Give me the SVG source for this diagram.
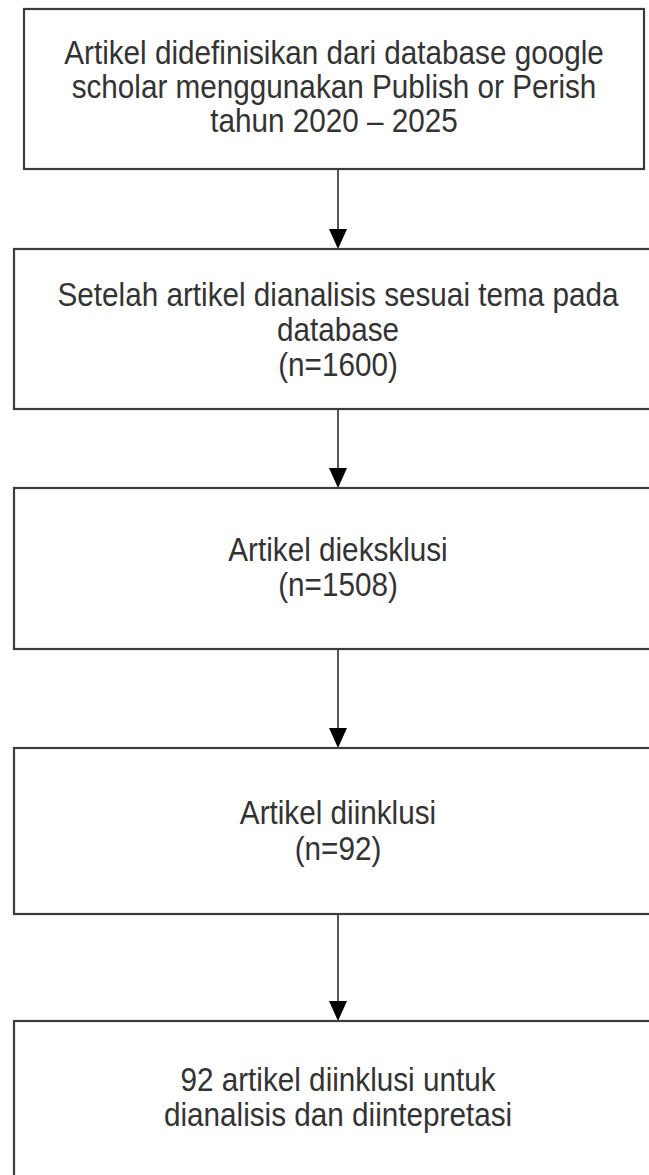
<svg xmlns="http://www.w3.org/2000/svg" width="649" height="1175" viewBox="0 0 649 1175">
<defs>
<style>
.box{fill:#fff;stroke:#3c3c3c;stroke-width:2.2}
.t{font-family:"Liberation Sans",Arial,sans-serif;font-size:33px;fill:#333;text-anchor:middle}
.c{stroke:#555;stroke-width:2;fill:none}
.h{fill:#000}
</style>
</defs>
<rect width="649" height="1175" fill="#fff"/>
<g id="connectors">
<line class="c" x1="338" y1="169" x2="338" y2="232"/>
<path class="h" d="M329,229 L347,229 L338,249 Z"/>
<line class="c" x1="338" y1="409" x2="338" y2="471"/>
<path class="h" d="M329,468 L347,468 L338,488 Z"/>
<line class="c" x1="338" y1="649" x2="338" y2="731"/>
<path class="h" d="M329,728 L347,728 L338,748 Z"/>
<line class="c" x1="338" y1="914" x2="338" y2="1004"/>
<path class="h" d="M329,1001 L347,1001 L338,1021 Z"/>
</g>
<g id="n1">
<rect class="box" x="24" y="9" width="620" height="160"/>
<g transform="translate(334,0) scale(0.9,1)">
<text class="t" x="0" y="64">Artikel didefinisikan dari database google</text>
<text class="t" x="0" y="98">scholar menggunakan Publish or Perish</text>
<text class="t" x="0" y="132">tahun 2020 – 2025</text>
</g>
</g>
<g id="n2">
<rect class="box" x="14" y="249" width="640" height="160"/>
<g transform="translate(338,0) scale(0.9,1)">
<text class="t" x="0" y="306">Setelah artikel dianalisis sesuai tema pada</text>
<text class="t" x="0" y="341">database</text>
<text class="t" x="0" y="376">(n=1600)</text>
</g>
</g>
<g id="n3">
<rect class="box" x="14" y="488" width="640" height="161"/>
<g transform="translate(338,0) scale(0.9,1)">
<text class="t" x="0" y="561">Artikel dieksklusi</text>
<text class="t" x="0" y="596">(n=1508)</text>
</g>
</g>
<g id="n4">
<rect class="box" x="14" y="748" width="640" height="166"/>
<g transform="translate(338,0) scale(0.9,1)">
<text class="t" x="0" y="824">Artikel diinklusi</text>
<text class="t" x="0" y="860">(n=92)</text>
</g>
</g>
<g id="n5">
<rect class="box" x="14" y="1021" width="640" height="200"/>
<g transform="translate(338,0) scale(0.9,1)">
<text class="t" x="0" y="1091">92 artikel diinklusi untuk</text>
<text class="t" x="0" y="1126">dianalisis dan diintepretasi</text>
</g>
</g>
</svg>
